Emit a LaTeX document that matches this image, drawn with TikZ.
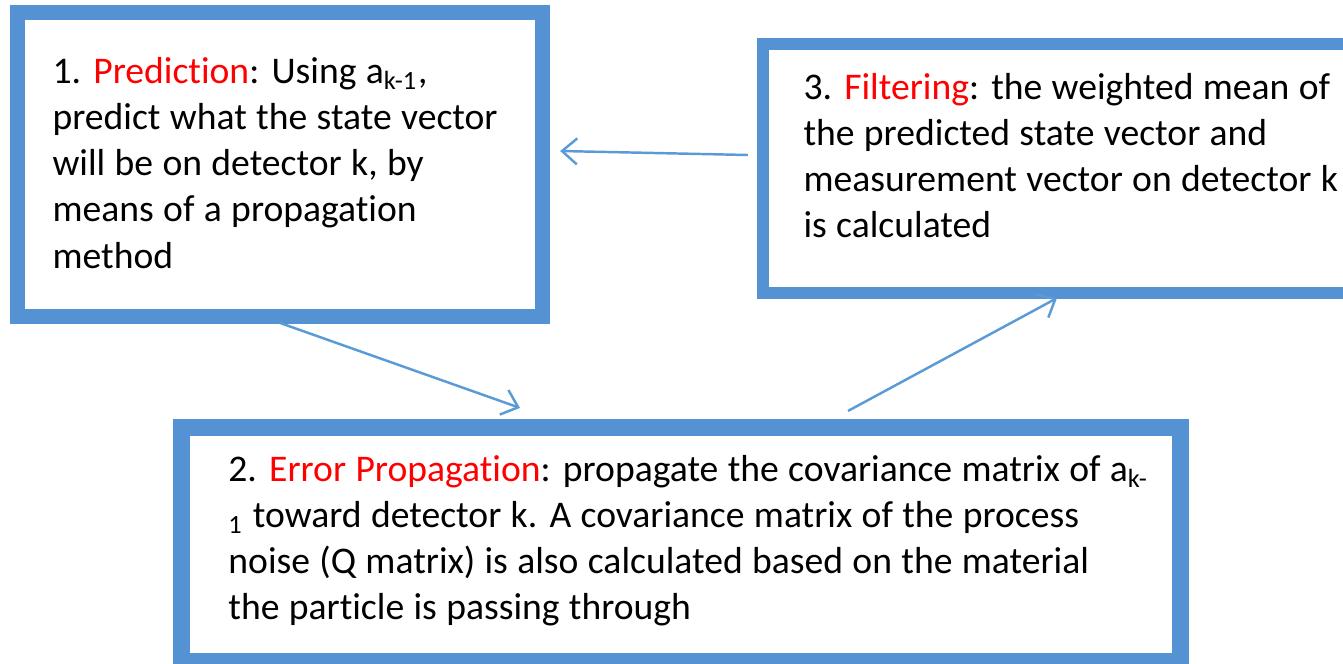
\documentclass[tikz,border=0pt]{standalone}
\usepackage{fontspec}
\setmainfont{Carlito}[Ligatures=NoCommon, WordSpace=1.1]
\usetikzlibrary{arrows.meta}
\definecolor{cadrebl}{RGB}{84,146,211}
\definecolor{flechebl}{RGB}{91,155,213}
\newcommand{\ttr}[1]{\textcolor{red}{#1}}

\begin{document}
\begin{tikzpicture}[
    x=0.01cm, y=-0.01cm,
    linet/.style={line width=0.7pt, draw=flechebl,
      -{Straight Barb[length=0.15cm,width=0.26cm]}},
    cadre/.style={rectangle, draw=cadrebl, fill=white,
      outer sep=0pt, inner sep=0pt},
    texte/.style={anchor=north west, inner sep=0pt, align=left}
  ]
  \useasboundingbox (0,0) rectangle (1343,664);
  \clip (0,0) rectangle (1343,664);
  \fontsize{10.7}{13.1}\selectfont
  % the three frames
  \path (279.75,164.25) node(pred) [cadre, line width=0.15cm,
      minimum width=5.245cm, minimum height=3.035cm] {}
    (1071.5,168.5) node(filt) [cadre, line width=0.12cm,
      minimum width=6.17cm, minimum height=2.49cm] {}
    (681,544.5) node(err) [cadre, line width=0.17cm,
      minimum width=9.99cm, minimum height=2.34cm] {};

  % their texts
  \path ([shift={(34.5,44.5)}]pred.north west) node(predtxt) [texte] {
    1. \ttr{Prediction}: Using a\textsubscript{k-1},\\
    predict what the state vector\\
    will be on detector k, by\\
    means of a propagation\\
    method
  }
  ([shift={(40,29)}]filt.north west) node(filttxt) [texte] {
    3. \ttr{Filtering}: the weighted mean of\\
    the predicted state vector and\\
    measurement vector on detector k\\
    is calculated
  }
  ([shift={(46.5,27)}]err.north west) node(errtxt) [texte] {
    2. \ttr{Error Propagation}: propagate the covariance matrix of a\textsubscript{k-}\\
    \textsubscript{1} toward detector k. A covariance matrix of the process\\
    noise (Q matrix) is also calculated based on the material\\
    the particle is passing through
  };

  \draw[linet] ([shift={(-15,-13.5)}]filt.west) -- ([shift={(18,-13.25)}]pred.east);
  \draw[linet] ([shift={(0,6.75)}]pred.south) -- ([shift={(-161,-19.5)}]err.north);
  \draw[linet] ([shift={(167,-16.5)}]err.north) -- ([shift={(-14.5,5)}]filt.south);
\end{tikzpicture}
\end{document}
